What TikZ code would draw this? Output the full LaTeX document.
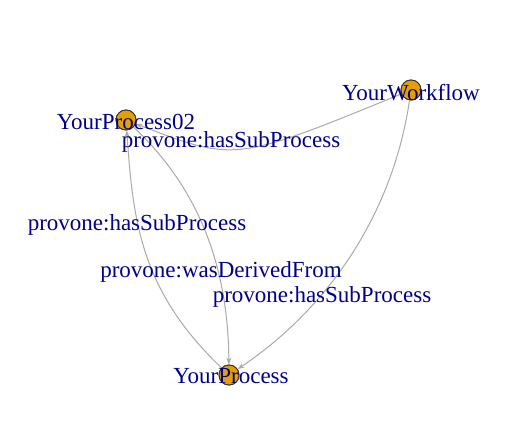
\documentclass[tikz,border=0pt]{standalone}
\usepackage{fontspec}
\setmainfont{Liberation Serif}
\usetikzlibrary{arrows.meta}
\definecolor{vfill}{RGB}{230,159,0}
\definecolor{lblue}{RGB}{0,0,139}
\definecolor{egray}{RGB}{170,170,170}
\tikzset{
  vert/.style={circle, fill=vfill, draw=black!80, line width=0.9pt, minimum size=20pt, inner sep=0pt},
  vlabel/.style={text=lblue, font=\fontsize{23}{23}\selectfont, inner sep=0pt},
  elabel/.style={text=lblue, font=\fontsize{23}{23}\selectfont, inner sep=0pt},
  edge/.style={draw=egray, line width=1pt, -{Stealth[length=7pt,width=5pt]}},
}
\begin{document}
\begin{tikzpicture}[x=1pt,y=-1pt]
\useasboundingbox (0,0) rectangle (514,434);
\fill[white] (0,0) rectangle (514,434);
% vertices
\node[vert] (p02) at (126,120) {};
\node[vert] (wf) at (411,90) {};
\node[vert] (yp) at (229,375) {};
% edges
\draw[edge] (wf) .. controls (235,162) .. (p02);
\draw[edge] (yp) .. controls (140,290) and (133,220) .. (p02);
\draw[edge] (p02) .. controls (195,185) and (228,260) .. (yp);
\draw[edge] (wf) .. controls (395,200) and (340,300) .. (yp);
% redraw vertices over edges
\node[vert] at (p02) {};
\node[vert] at (wf) {};
\node[vert] at (yp) {};
% vertex labels
\node[vlabel] (l02) at (126,122) {YourProcess02};
\node[vlabel] (lwf) at (411,93) {YourWorkflow};
\node[vlabel] (lyp) at (231,376) {YourProcess};
% edge labels
\node[elabel] (e1) at (231,142) {provone:hasSubProcess};
\node[elabel] (e2) at (137,225) {provone:hasSubProcess};
\node[elabel] (e3) at (221,272) {provone:wasDerivedFrom};
\node[elabel] (e4) at (322,297) {provone:hasSubProcess};
\end{tikzpicture}
\end{document}
